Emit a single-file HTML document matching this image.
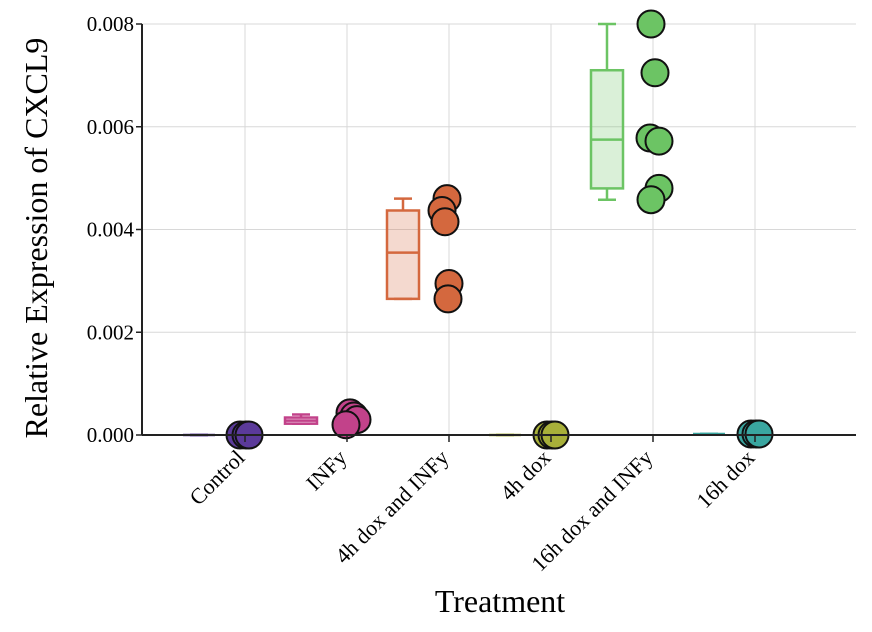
<!DOCTYPE html>
<html><head><meta charset="utf-8"><style>
body{margin:0;background:#fff}
svg{display:block;font-family:"Liberation Serif",serif}
</style></head><body>
<svg id="chart" width="872" height="632">
<g id="grid"></g><g id="marks"></g><g id="axes"></g>
<text x="47" y="238" font-size="32" text-anchor="middle" transform="rotate(-90 47 238)">Relative Expression of CXCL9</text>
<text x="500" y="612" font-size="32" text-anchor="middle">Treatment</text>
</svg>
<script>
const categories=["Control","INFy","4h dox and INFy","4h dox","16h dox and INFy","16h dox"];
const colors=["#5b3a9a","#c2428a","#d4683e","#a8b03a","#6cc464","#3aa6a0"];
const pointsControl=[0,0,0];
const pointsINFy=[0.00043,0.00037,0.0003,0.0002];
const points4hINFy=[0.0046,0.00437,0.00415,0.00295,0.00265];
const points4hdox=[0,0,0];
const points16hINFy=[0.008,0.00705,0.00578,0.00572,0.0048,0.00458];
const points16hdox=[0.00002,0.00002,0.00002];
const boxMin=[0,0.00022,0.00265,0,0.00458,0.00002];
const boxQ1=[0,0.00022,0.00265,0,0.0048,0.00002];
const boxMed=[0,0.00028,0.00355,0,0.00575,0.00002];
const boxQ3=[0,0.00034,0.00437,0,0.0071,0.00002];
const boxMax=[0,0.0004,0.0046,0,0.008,0.00002];
const yTicks=[0,0.002,0.004,0.006,0.008];
const yTickLabels=["0.000","0.002","0.004","0.006","0.008"];
const allPoints=[pointsControl,pointsINFy,points4hINFy,points4hdox,points16hINFy,points16hdox];
const offs=[[-5,1,4,-1,3,0],[3,7,10,-1,5,0],[-2,-7,-4,0,-1,2],[-4,1,4],[-2,2,-3,6,6,-2],[-4,1,4]];
const NS="http://www.w3.org/2000/svg";
const X0=142,X1=856,Y0=435,Y1=24;
const y=v=>Y0-(v/0.008)*(Y0-Y1);
const x=i=>245+i*102;
function mk(tag,attrs,parent){const e=document.createElementNS(NS,tag);for(const k in attrs)e.setAttribute(k,attrs[k]);parent.appendChild(e);return e;}
const grid=document.getElementById('grid'),marks=document.getElementById('marks'),axes=document.getElementById('axes');
yTicks.forEach((t,i)=>{
 const l=mk('line',{x1:X0,x2:X1,y1:y(t),y2:y(t),stroke:'#d8d8d8','stroke-width':1},grid);
 
 
 const tx=mk('text',{x:X0-8,y:y(t)+7,'font-size':21,'text-anchor':'end'},axes);
 tx.textContent=yTickLabels[i];
 
 
 const tk=mk('line',{x1:X0-6,x2:X0,y1:y(t),y2:y(t),stroke:'#222','stroke-width':1.5},axes);
 
 
});
categories.forEach((c,i)=>{
 const cx=x(i);
 const g=mk('line',{x1:cx,x2:cx,y1:Y1,y2:Y0,stroke:'#d8d8d8','stroke-width':1},grid);
 
 
 const bx=cx-46,w=32,col=colors[i];
 const grp=mk('g',{},marks);
 
 
 mk('line',{x1:bx,x2:bx,y1:y(boxMax[i]),y2:y(boxQ3[i]),stroke:col,'stroke-width':2.5},grp);
 mk('line',{x1:bx,x2:bx,y1:y(boxQ1[i]),y2:y(boxMin[i]),stroke:col,'stroke-width':2.5},grp);
 mk('line',{x1:bx-9,x2:bx+9,y1:y(boxMax[i]),y2:y(boxMax[i]),stroke:col,'stroke-width':2.5},grp);
 mk('line',{x1:bx-9,x2:bx+9,y1:y(boxMin[i]),y2:y(boxMin[i]),stroke:col,'stroke-width':2.5},grp);
 const h=Math.max(y(boxQ1[i])-y(boxQ3[i]),0);
 mk('rect',{x:bx-w/2,y:y(boxQ3[i]),width:w,height:h,fill:col,'fill-opacity':h>0?0.25:0,stroke:col,'stroke-width':2.5},grp);
 mk('line',{x1:bx-w/2,x2:bx+w/2,y1:y(boxMed[i]),y2:y(boxMed[i]),stroke:col,'stroke-width':2.5},grp);
 allPoints[i].forEach((v,j)=>{
  const p=mk('circle',{cx:cx+(offs[i][j]||0),cy:y(v),r:13.5,fill:col,stroke:'#111','stroke-width':2},marks);
  
  
 });
 const tk=mk('line',{x1:cx,x2:cx,y1:Y0,y2:Y0+7,stroke:'#222','stroke-width':1.5},axes);
 
 
 const lx=cx+1,ly=Y0+24;
 const tx=mk('text',{x:lx,y:ly,'font-size':22,'text-anchor':'end',transform:`rotate(-45 ${lx} ${ly})`},axes);
 tx.textContent=c;
 
 
});
const ax=mk('line',{x1:X0,x2:X1,y1:Y0,y2:Y0,stroke:'#222','stroke-width':2},axes);


const ay=mk('line',{x1:X0,x2:X0,y1:Y1,y2:Y0,stroke:'#222','stroke-width':2},axes);


</script>
</body></html>
